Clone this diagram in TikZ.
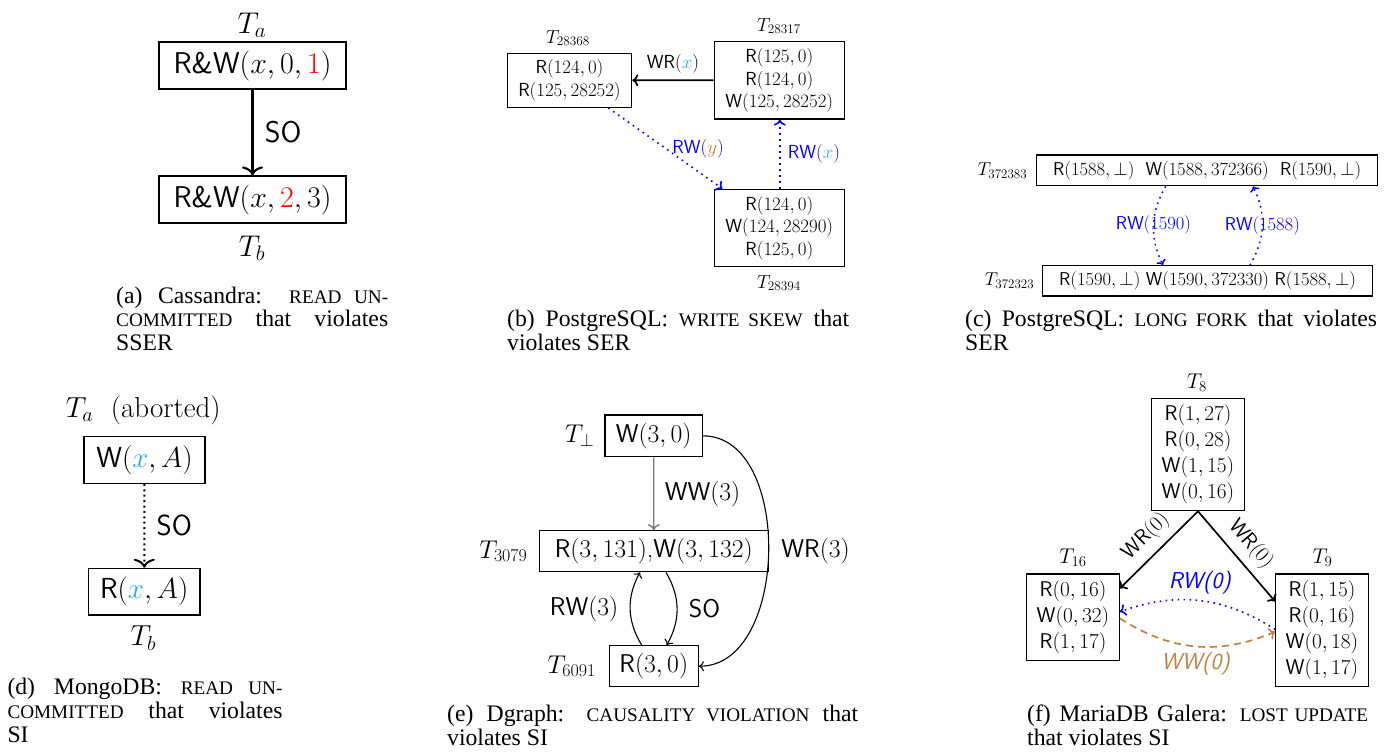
\RequirePackage{fix-cm}
\documentclass[tikz,border=0pt]{standalone}
\usepackage{fontspec}
\newfontfamily\capfont{Liberation Serif}
\usetikzlibrary{calc,arrows.meta}
\definecolor{xcyan}{RGB}{40,170,230}
\definecolor{ybrown}{RGB}{191,128,64}
\definecolor{rwblue}{RGB}{0,0,255}
\definecolor{wwgray}{RGB}{120,120,120}
\newcommand\fA{\fontsize{30}{34}\selectfont}
\newcommand\fB{\fontsize{18.9}{22.7}\selectfont}
\newcommand\fC{\fontsize{18.6}{21}\selectfont}
\newcommand\fD{\fontsize{29}{35}\selectfont}
\newcommand\fE{\fontsize{25.7}{29}\selectfont}
\newcommand\fF{\fontsize{21.3}{26}\selectfont}
\newcommand\fCap{\fontsize{23.7}{23.5}\selectfont}
\newcommand\fsc[1]{{\fontsize{19.2}{23.5}\selectfont #1}}
\newcommand\sR{\textsf{R}}
\newcommand\sW{\textsf{W}}
\begin{document}
\begin{tikzpicture}[x=1pt,y=1pt,
  txbox/.style={draw, line width=1.2pt, inner sep=0pt, align=center},
  tipbig/.style={-{To[length=9pt,width=21pt]}},
  tipmid/.style={-{To[length=6pt,width=12pt]}},
  tipsm/.style={-{To[length=5pt,width=10pt]}},
  arr/.style={tipmid, line width=1.7pt},
  thinarr/.style={tipsm, line width=1.1pt},
  rwline/.style={tipmid, draw=rwblue, line width=1.6pt, dash pattern=on 1.6pt off 4.4pt},
  wwline/.style={tipmid, draw=ybrown, line width=1.7pt, dash pattern=on 7pt off 5pt},
  capline/.style={anchor=base west, inner sep=0pt, font=\capfont\fCap},
  tl/.style={inner sep=0pt}]
\useasboundingbox (0,0) rectangle (1395,-753);

% ---------------- (a)
\node[txbox, font=\fA, minimum width=187, minimum height=47] (a1) at (252.5,-65.5) {\textsf{R\&W}$(x,0,\textcolor{red}{1})$};
\node[txbox, font=\fA, minimum width=187, minimum height=47] (a2) at (252.5,-199.5) {\textsf{R\&W}$(x,\textcolor{red}{2},3)$};
\node[tl, font=\fA] (ta) at (252,-25) {$T_a$};
\node[tl, font=\fA] (tb) at (252,-248) {$T_b$};
\draw[tipbig, line width=2.1pt] (a1) -- (a2) node[midway, right=8pt, font=\fA] (laso) {\textsf{SO}};
\node[capline] (capa1) at (116,-303) {\makebox[272pt][s]{(a) Cassandra: \fsc{READ UN-}}};
\node[capline] (capa2) at (116,-326.5) {\makebox[272pt][s]{\fsc{COMMITTED} that violates}};
\node[capline] (capa3) at (116,-350) {SSER};

% ---------------- (b)
\node[txbox, font=\fB, minimum width=124.4, minimum height=54] (b1) at (569.5,-80.3) {\sR$(124,0)$\\\sR$(125,28252)$};
\node[txbox, font=\fB, minimum width=130, minimum height=77.3] (b2) at (779.3,-80.35) {\sR$(125,0)$\\\sR$(124,0)$\\\sW$(125,28252)$};
\node[txbox, font=\fB, minimum width=130, minimum height=77.4] (b3) at (779.3,-228) {\sR$(124,0)$\\\sW$(124,28290)$\\\sR$(125,0)$};
\node[tl, font=\fB] (tb1) at (568,-38) {$T_{28368}$};
\node[tl, font=\fB] (tb2) at (779,-26) {$T_{28317}$};
\node[tl, font=\fB] (tb3) at (779,-283) {$T_{28394}$};
\draw[arr] (b2) -- (b1) node[midway, above=3pt, font=\fB] (lbwr) {\textsf{WR}$(\textcolor{xcyan}{x})$};
\draw[rwline] ([xshift=38.8]b1.south) -- ([xshift=8.7]b3.north west) node[midway, right=3pt, font=\fB, text=rwblue] (lbrwy) {\textsf{RW}$(\textcolor{ybrown}{y})$};
\draw[rwline] ([xshift=0.5]b3.north) -- ([xshift=0.5]b2.south) node[midway, right=4pt, font=\fB, text=rwblue] (lbrwx) {\textsf{RW}$(\textcolor{xcyan}{x})$};
\node[capline] (capb1) at (507,-326.5) {\makebox[342pt][s]{(b) PostgreSQL: \fsc{WRITE SKEW} that}};
\node[capline] (capb2) at (507,-350) {violates SER};

% ---------------- (c)
\node[txbox, font=\fC, minimum width=341, minimum height=30.7] (c1) at (1207.2,-170.35) {\sR$(1588,\bot)$\ \ \sW$(1588,372366)$\ \ \sR$(1590,\bot)$};
\node[txbox, font=\fC, minimum width=330.4, minimum height=30.3] (c2) at (1207.5,-280.85) {\sR$(1590,\bot)$ \sW$(1590,372330)$ \sR$(1588,\bot)$};
\node[tl, font=\fC, anchor=east] (tc1) at ([xshift=-8.7]c1.west) {$T_{372383}$};
\node[tl, font=\fC, anchor=east] (tc2) at ([xshift=-7.3]c2.west) {$T_{372323}$};
\draw[rwline, tipsm, line width=1.5pt] ([xshift=-41.5]c1.south) to[bend right=28] node[midway, font=\fC, text=rwblue] (lc1) {\textsf{RW}$(1590)$} ([xshift=-44.5]c2.north);
\draw[rwline, tipsm, line width=1.5pt] ([xshift=42.5]c2.north) to[bend right=28] node[midway, font=\fC, text=rwblue] (lc2) {\textsf{RW}$(1588)$} ([xshift=45.8]c1.south);
\node[capline] (capc1) at (965,-326.5) {\makebox[412pt][s]{(c) PostgreSQL: \fsc{LONG FORK} that violates}};
\node[capline] (capc2) at (965,-350) {SER};

% ---------------- (d)
\node[txbox, font=\fD, minimum width=121, minimum height=46.6] (d1) at (144.5,-460) {\sW$(\textcolor{xcyan}{x},A)$};
\node[txbox, font=\fD, minimum width=111.7, minimum height=46.7] (d2) at (144.2,-591.7) {\sR$(\textcolor{xcyan}{x},A)$};
\node[tl, font=\fD] (td1) at (143.3,-410) {$T_a$\ \ (aborted)};
\node[tl, font=\fD] (td2) at (143.3,-638) {$T_b$};
\draw[tipbig, line width=2pt, dash pattern=on 2pt off 3.4pt] (d1) -- (d2) node[midway, right=8pt, font=\fD] (ldso) {\textsf{SO}};
\node[capline] (capd1) at (7.3,-694) {\makebox[275pt][s]{(d) MongoDB: \fsc{READ UN-}}};
\node[capline] (capd2) at (7.3,-718) {\makebox[275pt][s]{\fsc{COMMITTED} that violates}};
\node[capline] (capd3) at (7.3,-742) {SI};

% ---------------- (e)
\node[txbox, font=\fE, minimum width=97.3, minimum height=41.7] (e1) at (653.7,-435.85) {\sW$(3,0)$};
\node[txbox, font=\fE, minimum width=229, minimum height=41] (e2) at (653.8,-551.2) {\sR$(3,131)$,\sW$(3,132)$};
\node[txbox, font=\fE, minimum width=89, minimum height=41] (e3) at (653.8,-666.2) {\sR$(3,0)$};
\node[tl, font=\fE, anchor=east] (te1) at ([xshift=-10]e1.west) {$T_\bot$};
\node[tl, font=\fE, anchor=east] (te2) at ([xshift=-11]e2.west) {$T_{3079}$};
\node[tl, font=\fE, anchor=east] (te3) at ([xshift=-12.6]e3.west) {$T_{6091}$};
\draw[tipmid, draw=wwgray, line width=1.4pt] (e1) -- (e2) node[midway, right=7pt, font=\fE, text=black] (leww) {\textsf{WW}$(3)$};
\draw[thinarr] (e1.east) to[out=0, in=0] node[pos=0.5, right=9pt, font=\fE] (lewr) {\textsf{WR}$(3)$} (e3.east);
\draw[thinarr] ([xshift=-12.1]e3.north) to[bend left=30] node[midway, left=8pt, font=\fE] (lerw) {\textsf{RW}$(3)$} ([xshift=-13.8]e2.south);
\draw[thinarr] ([xshift=12.2]e2.south) to[bend left=30] node[midway, right=8pt, font=\fE] (leso) {\textsf{SO}} ([xshift=12.9]e3.north);
\node[capline] (cape1) at (447,-721.5) {\makebox[411pt][s]{(e) Dgraph: \fsc{CAUSALITY VIOLATION} that}};
\node[capline] (cape2) at (447,-745) {violates SI};

% ---------------- (f)
\node[txbox, font=\fF, minimum width=92.6, minimum height=112.4] (f1) at (1198,-454.5) {\sR$(1,27)$\\\sR$(0,28)$\\\sW$(1,15)$\\\sW$(0,16)$};
\node[txbox, font=\fF, minimum width=92.6, minimum height=86.7] (f2) at (1073,-617.35) {\sR$(0,16)$\\\sW$(0,32)$\\\sR$(1,17)$};
\node[txbox, font=\fF, minimum width=92.6, minimum height=112.7] (f3) at (1322,-630.35) {\sR$(1,15)$\\\sR$(0,16)$\\\sW$(0,18)$\\\sW$(1,17)$};
\node[tl, font=\fF] (tf1) at (1197,-383) {$T_8$};
\node[tl, font=\fF] (tf2) at (1073,-558) {$T_{16}$};
\node[tl, font=\fF] (tf3) at (1322.5,-558) {$T_9$};
\draw[arr] (f1.south) -- ([yshift=-15]f2.north east) node[midway, sloped, above=4pt, font=\fF] (lfwr1) {\textsf{WR}$(0)$};
\draw[arr] (f1.south) -- ([yshift=-28]f3.north west) node[midway, sloped, above=4pt, font=\fF] (lfwr2) {\textsf{WR}$(0)$};
\draw[rwline] ([yshift=1]f3.west) to[bend right=26] node[midway, above=2pt, font=\fontsize{23}{26}\selectfont\sffamily\itshape, text=rwblue] (lfrw) {RW(0)} ([yshift=5.6]f2.east);
\draw[wwline] ([yshift=-1]f2.east) to[bend right=28] node[midway, below=2pt, font=\fontsize{23}{26}\selectfont\sffamily\itshape, text=ybrown] (lfww) {WW(0)} ([yshift=-1.35]f3.west);
\node[capline] (capf1) at (1027,-721.5) {\makebox[341pt][s]{(f) MariaDB Galera: \fsc{LOST UPDATE}}};
\node[capline] (capf2) at (1027,-745) {that violates SI};
\end{tikzpicture}
\end{document}
